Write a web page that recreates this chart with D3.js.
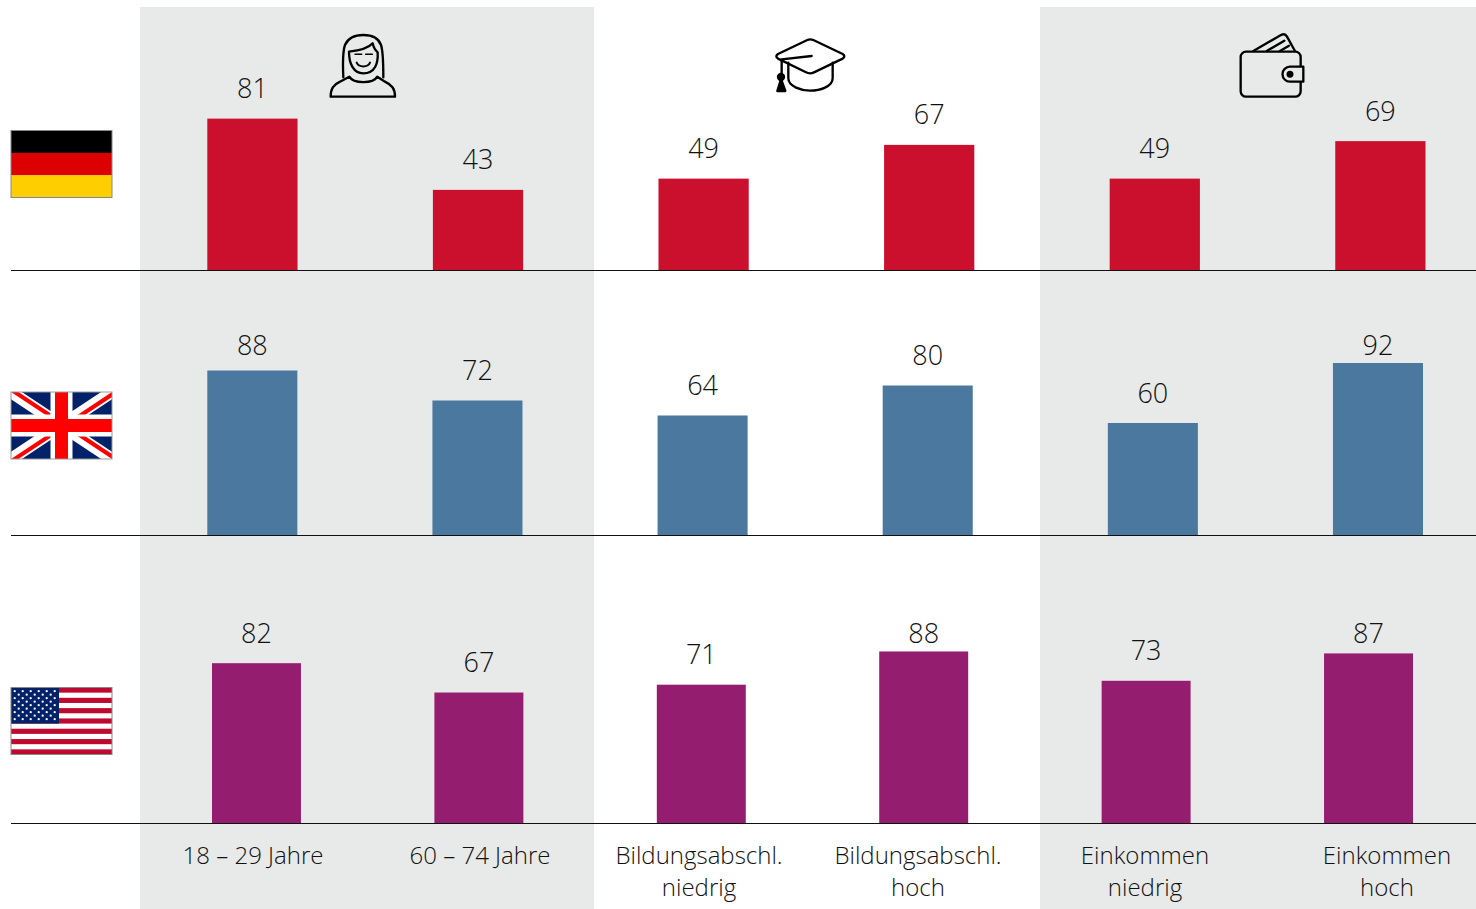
<!DOCTYPE html>
<html><head><meta charset="utf-8">
<script src="https://cdn.jsdelivr.net/npm/d3@7/dist/d3.min.js"></script>
<style>html,body{margin:0;padding:0;background:#fff}svg{display:block}text{font-family:"Open Sans",sans-serif;font-weight:300;fill:#111}</style>
</head><body><svg id="c" width="1476" height="909"></svg>
<script>
const categories = ["18 – 29 Jahre","60 – 74 Jahre","Bildungsabschl. niedrig","Bildungsabschl. hoch","Einkommen niedrig","Einkommen hoch"];
const categoryLines = [["18 – 29 Jahre"],["60 – 74 Jahre"],["Bildungsabschl.","niedrig"],["Bildungsabschl.","hoch"],["Einkommen","niedrig"],["Einkommen","hoch"]];
const germany = [81,43,49,67,49,69];
const britain = [88,72,64,80,60,92];
const usa = [82,67,71,88,73,87];

const W=1476,H=909;
const svg=d3.select("#c");
const rows=[
 {values:germany,color:"#cb102d",base:270.5,unit:1.875,x0:207.3,x1:1425.5,minLabel:0},
 {values:britain,color:"#4a789f",base:535.5,unit:1.875,x0:207.3,x1:1423,minLabel:345},
 {values:usa,color:"#951d6f",base:823.5,unit:1.955,x0:212,x1:1413,minLabel:633}
];
[[140,594],[1040,1476]].forEach(p=>svg.append("rect").attr("x",p[0]).attr("y",7).attr("width",p[1]-p[0]).attr("height",H-7).attr("fill","#e8e9e9"));

rows.forEach(r=>{
  const x=d3.scaleBand().domain(categories).range([r.x0,r.x1]).paddingInner(0.6).paddingOuter(0);
  const y=d3.scaleLinear().domain([0,100]).range([r.base,r.base-r.unit*100]);
  const g=svg.append("g");
  g.selectAll("rect").data(r.values).join("rect")
   .attr("x",(d,i)=>x(categories[i])).attr("width",x.bandwidth())
   .attr("y",d=>y(d)).attr("height",d=>r.base-y(d)).attr("fill",r.color);
  g.selectAll("text").data(r.values).join("text")
   .attr("x",(d,i)=>x(categories[i])+x.bandwidth()/2)
   .attr("y",d=>Math.max(y(d)-30,r.minLabel)+9.5)
   .attr("text-anchor","middle").attr("font-size",27).text(d=>d);
  svg.append("line").attr("x1",11).attr("x2",W).attr("y1",r.base).attr("y2",r.base).attr("stroke","#111").attr("stroke-width",1);
});

const labelCenters=[253,480,699,918,1145,1387];
categoryLines.forEach((lines,i)=>{
  lines.forEach((t,j)=>svg.append("text").attr("x",labelCenters[i]).attr("y",864+j*32)
    .attr("text-anchor","middle").attr("font-size",24).text(t));
});

function icon(tx,ty){return svg.append("g").attr("transform",`translate(${tx},${ty}) scale(0.3333)`)
  .attr("fill","none").attr("stroke","#000").attr("stroke-width",7).attr("stroke-linejoin","round").attr("stroke-linecap","round");}
const w=icon(300,20);
["M130 172C128 130 128 95 135 75C145 52 170 45 190 45C215 45 235 52 243 75C250 95 250 130 250 172",
 "M147 95C175 92 205 85 218 70C222 88 228 93 233 97C235 130 225 160 190 160C160 160 147 130 147 95Z",
 "M92 230L285 230C285 205 275 195 255 185L232 170C220 192 160 192 148 170L120 185C100 195 92 205 92 230Z"].forEach(d=>w.append("path").attr("d",d));
w.append("path").attr("d","M165 103H185M197 103H217").attr("stroke-width",4.5);
w.append("path").attr("d","M170 128C177 143 203 143 210 128").attr("stroke-width",6);
const c=icon(760,25);
["M142 45Q150 41 160 45L248 87Q258 94 248 101L162 142Q150 148 138 142L54 101Q44 94 54 87Z",
 "M85 113V160C85 185 125 197 150 197C180 197 218 185 218 160V113",
 "M155 93L65 103V150"].forEach(d=>c.append("path").attr("d",d));
c.append("circle").attr("cx",63).attr("cy",156).attr("r",9).attr("fill","#000");
c.append("path").attr("d","M63 162L52 198H76Z").attr("fill","#000");
const wl=icon(1225,25);
wl.append("path").attr("d","M85 78L168 30Q180 24 186 35L210 78M125 78L178 47M165 78L192 62");
wl.append("rect").attr("x",47).attr("y",80).attr("width",180).attr("height",135).attr("rx",16);
wl.append("path").attr("d","M235 125H195A22 22 0 0 0 195 170H235Z").attr("fill","#e8e9e9");
wl.append("circle").attr("cx",195).attr("cy",148).attr("r",7).attr("fill","#000");

const fw=101,fh=67;
const de=svg.append("g").attr("transform","translate(11,130.5)");
["#000","#dd0000","#ffce00"].forEach((col,i)=>de.append("rect").attr("y",i*fh/3).attr("width",fw).attr("height",fh/3+.3).attr("fill",col));
de.append("rect").attr("width",fw).attr("height",fh).attr("fill","none").attr("stroke","#888").attr("stroke-width",1);

svg.append("clipPath").attr("id","ukclip").append("rect").attr("width",fw).attr("height",fh);
const uk=svg.append("g").attr("transform","translate(11,392)");
const ukIn=uk.append("g").attr("clip-path","url(#ukclip)");
ukIn.append("rect").attr("width",fw).attr("height",fh).attr("fill","#012169");
ukIn.append("path").attr("d",`M0 0L${fw} ${fh}M${fw} 0L0 ${fh}`).attr("stroke","#fff").attr("stroke-width",12);
ukIn.append("path").attr("d",`M0 0L${fw/2} ${fh/2}M${fw} ${fh}L${fw/2} ${fh/2}`).attr("stroke","#f00").attr("stroke-width",4).attr("transform","translate(1.5,-1.5)");
ukIn.append("path").attr("d",`M${fw} 0L${fw/2} ${fh/2}M0 ${fh}L${fw/2} ${fh/2}`).attr("stroke","#f00").attr("stroke-width",4).attr("transform","translate(1.5,1.5)");
ukIn.append("path").attr("d",`M${fw/2} 0V${fh}M0 ${fh/2}H${fw}`).attr("stroke","#fff").attr("stroke-width",22);
ukIn.append("path").attr("d",`M${fw/2} 0V${fh}M0 ${fh/2}H${fw}`).attr("stroke","#f00").attr("stroke-width",13);
uk.append("rect").attr("width",fw).attr("height",fh).attr("fill","none").attr("stroke","#999").attr("stroke-width",1);

const us=svg.append("g").attr("transform","translate(11,687.5)");
us.append("rect").attr("width",fw).attr("height",fh).attr("fill","#fff");
d3.range(7).forEach(i=>us.append("rect").attr("y",i*2*fh/13).attr("width",fw).attr("height",fh/13).attr("fill","#bf0a30"));
us.append("rect").attr("width",48).attr("height",fh*7/13).attr("fill","#012169");
d3.range(9).forEach(r=>{const n=r%2?5:6;d3.range(n).forEach(k=>us.append("circle")
  .attr("cx",(r%2?7.7:3.7)+k*8).attr("cy",3.7+r*3.5).attr("r",1.15).attr("fill","#fff"));});
us.append("rect").attr("width",fw).attr("height",fh).attr("fill","none").attr("stroke","#888").attr("stroke-width",1);
</script></body></html>
